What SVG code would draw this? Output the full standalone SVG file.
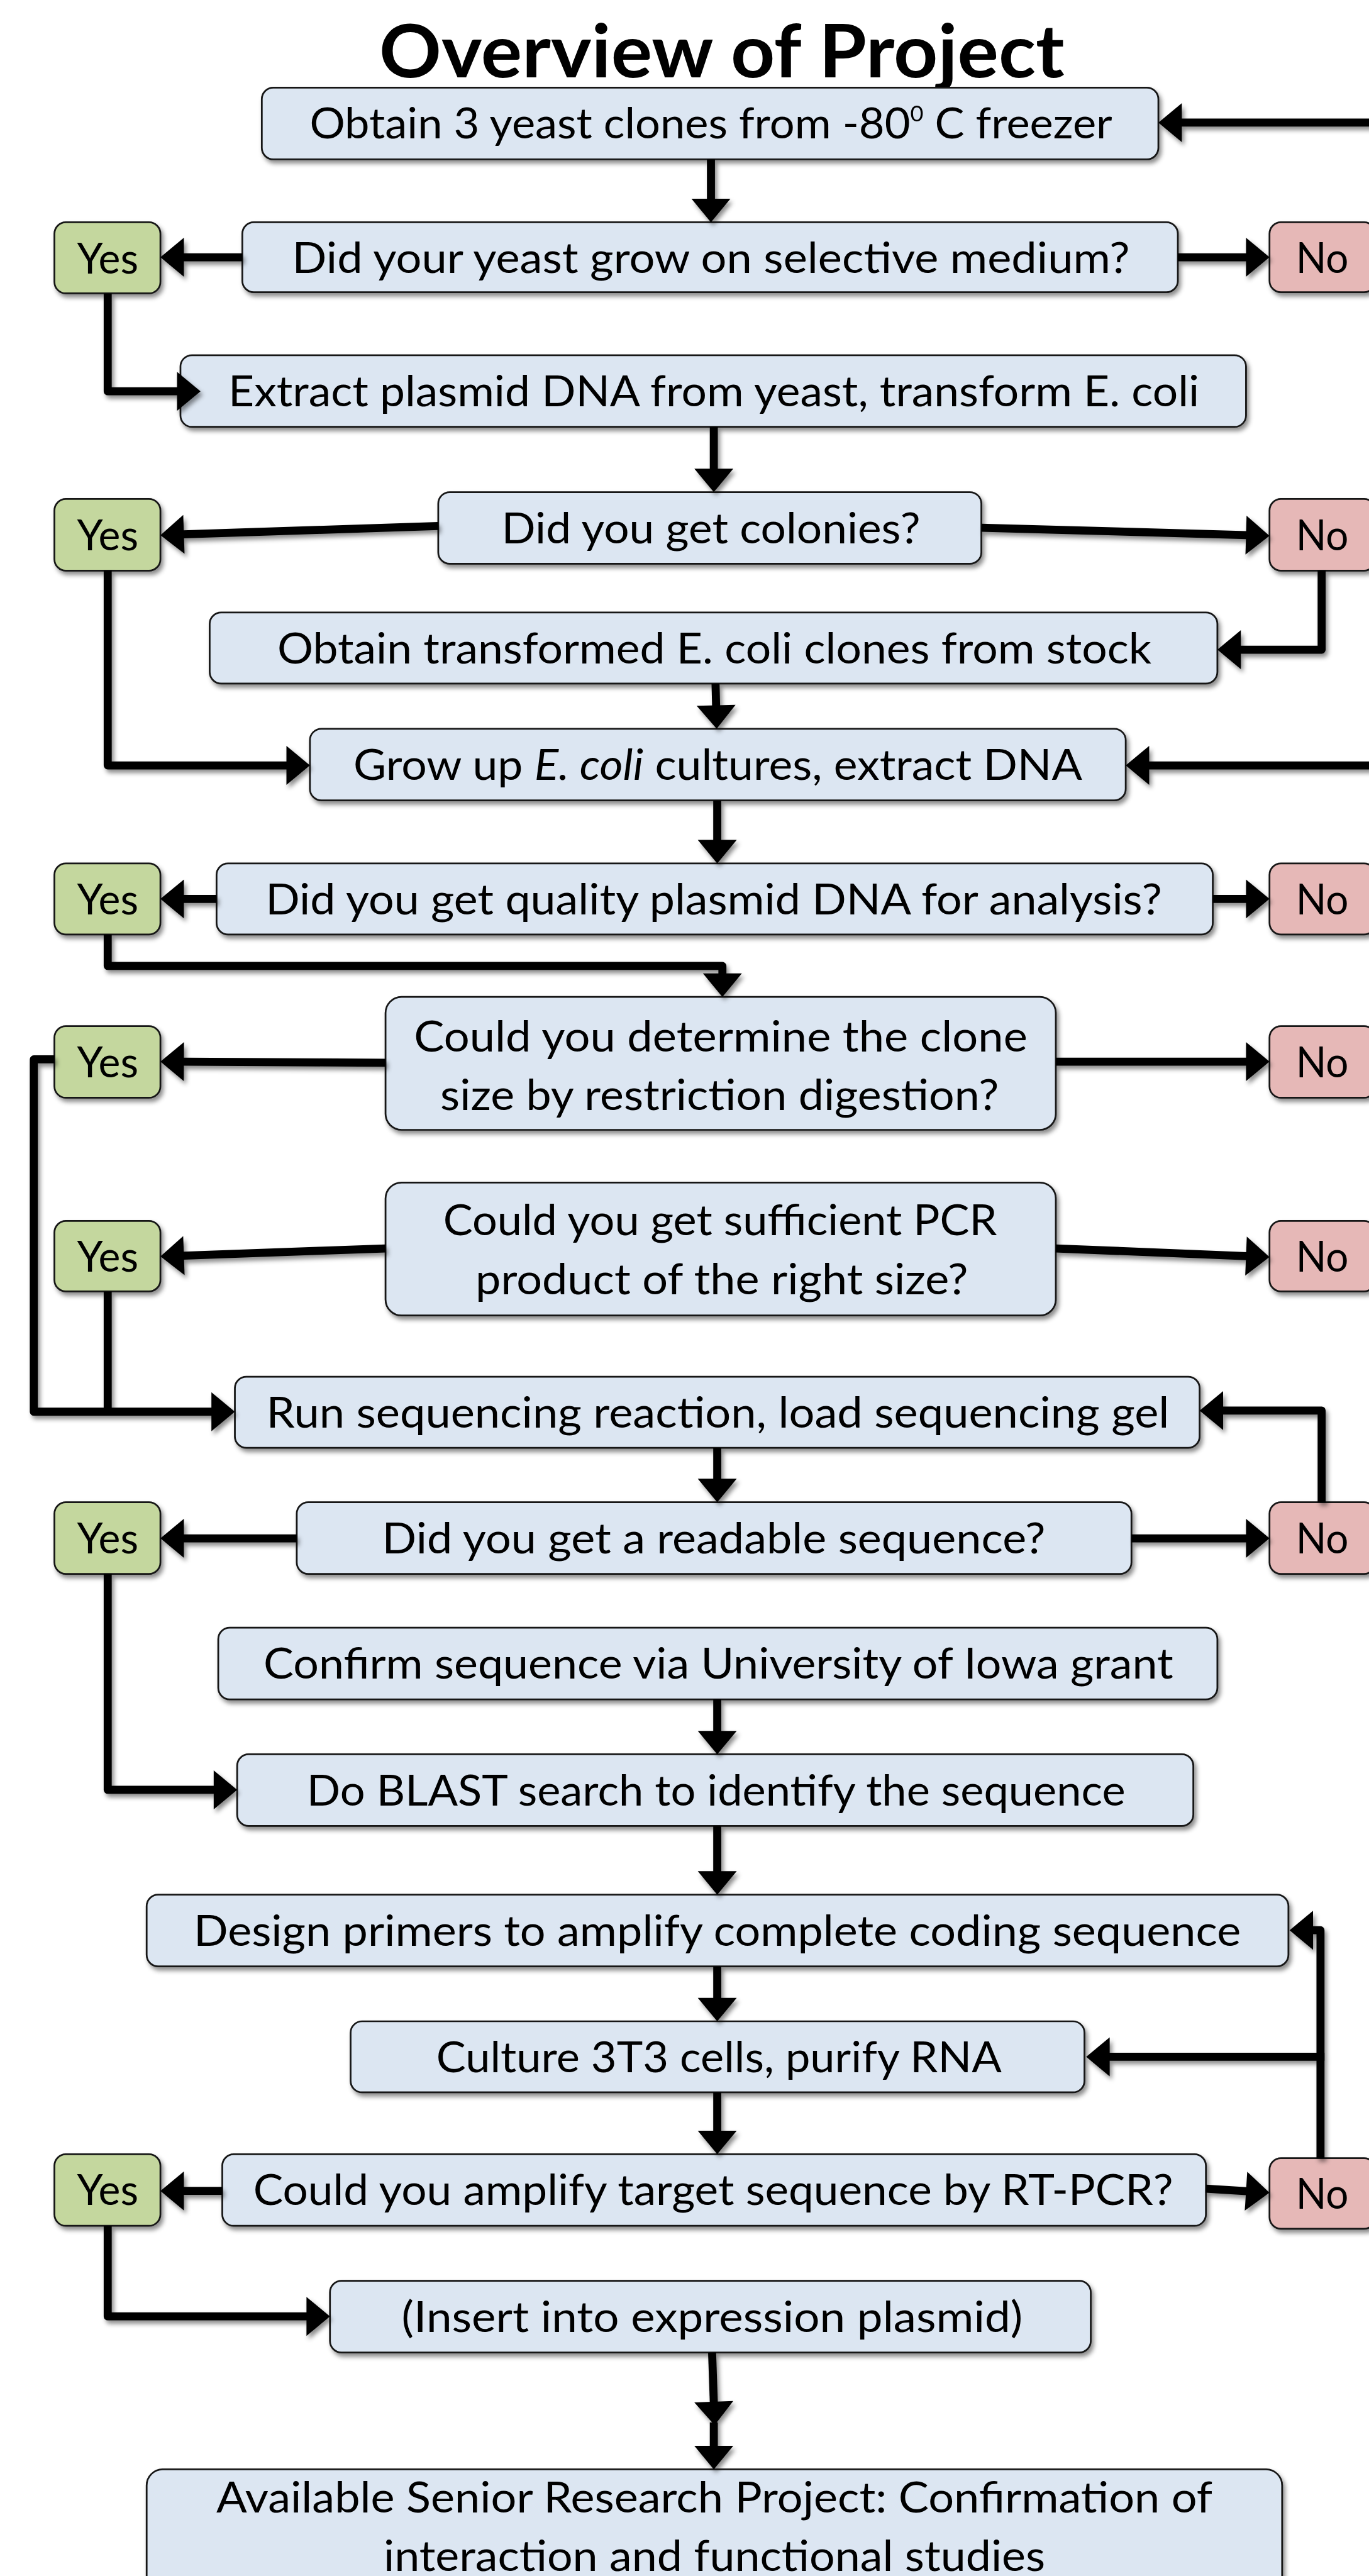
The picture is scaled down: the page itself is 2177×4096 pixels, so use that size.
<svg xmlns="http://www.w3.org/2000/svg" width="2177" height="4096" viewBox="0 0 2177 4096">
<defs>
<style>
.box{fill:#DCE6F2;stroke:#141414;stroke-width:3}
.yes{fill:#C4D79E;stroke:#141414;stroke-width:3}
.no{fill:#E6B8B7;stroke:#141414;stroke-width:3}
.t{font-family:Lato,"Open Sans","Liberation Sans",sans-serif;font-size:74px;fill:#000;text-anchor:middle}
.title{font-family:Lato,"Open Sans","Liberation Sans",sans-serif;font-size:128px;font-weight:bold;fill:#000;text-anchor:middle}
.c{fill:none;stroke:#000;stroke-width:14;stroke-linejoin:round;marker-end:url(#ah)}
.cn{fill:none;stroke:#000;stroke-width:14;stroke-linejoin:round}
</style>
<marker id="ah" markerUnits="userSpaceOnUse" markerWidth="42" markerHeight="68" viewBox="0 0 42 68" refX="1" refY="34" orient="auto" overflow="visible"><path d="M0,0 L41,34 L0,68 z" fill="#000"/></marker>
<filter id="sh" x="-10%" y="-10%" width="120%" height="130%"><feDropShadow dx="4" dy="6" stdDeviation="4" flood-color="#000" flood-opacity="0.45"/></filter>
</defs>
<rect x="0" y="0" width="2177" height="4096" fill="#fff"/>
<g transform="scale(0.911)">
<g id="title"><text class="title" x="1260" y="135" textLength="1196" lengthAdjust="spacingAndGlyphs">Overview of Project</text></g>

<g id="n1" filter="url(#sh)"><rect class="box" x="457" y="153" width="1565" height="125" rx="20"/><text class="t" x="1241" y="242" textLength="1401" lengthAdjust="spacingAndGlyphs">Obtain 3 yeast clones from -80<tspan font-size="38" dy="-30">0</tspan><tspan dy="30"> C freezer</tspan></text></g>
<g id="d1" filter="url(#sh)"><rect class="box" x="423" y="388" width="1633" height="122" rx="20"/><text class="t" x="1241" y="476" textLength="1462" lengthAdjust="spacingAndGlyphs">Did your yeast grow on selective medium?</text></g>
<g id="yes1" filter="url(#sh)"><rect class="yes" x="95" y="388" width="185" height="124" rx="20"/><text class="t" x="188" y="477" textLength="107" lengthAdjust="spacingAndGlyphs">Yes</text></g>
<g id="no1" filter="url(#sh)"><rect class="no" x="2216" y="388" width="185" height="122" rx="20"/><text class="t" x="2308" y="476" textLength="92" lengthAdjust="spacingAndGlyphs">No</text></g>
<g id="n2" filter="url(#sh)"><rect class="box" x="315" y="620" width="1860" height="125" rx="20"/><text class="t" x="1246" y="709" textLength="1695" lengthAdjust="spacingAndGlyphs">Extract plasmid DNA from yeast, transform E. coli</text></g>
<g id="d2" filter="url(#sh)"><rect class="box" x="765" y="859" width="948" height="125" rx="20"/><text class="t" x="1241" y="948" textLength="731" lengthAdjust="spacingAndGlyphs">Did you get colonies?</text></g>
<g id="yes2" filter="url(#sh)"><rect class="yes" x="95" y="871" width="185" height="125" rx="20"/><text class="t" x="188" y="960" textLength="107" lengthAdjust="spacingAndGlyphs">Yes</text></g>
<g id="no2" filter="url(#sh)"><rect class="no" x="2216" y="871" width="185" height="125" rx="20"/><text class="t" x="2308" y="960" textLength="92" lengthAdjust="spacingAndGlyphs">No</text></g>
<g id="n3" filter="url(#sh)"><rect class="box" x="366" y="1069" width="1759" height="124" rx="20"/><text class="t" x="1247" y="1158" textLength="1526" lengthAdjust="spacingAndGlyphs">Obtain transformed E. coli clones from stock</text></g>
<g id="n4" filter="url(#sh)"><rect class="box" x="541" y="1272" width="1424" height="125" rx="20"/><text class="t" x="1253" y="1361" textLength="1272" lengthAdjust="spacingAndGlyphs">Grow up <tspan font-style="italic">E. coli</tspan> cultures, extract DNA</text></g>
<g id="d3" filter="url(#sh)"><rect class="box" x="378" y="1507" width="1739" height="124" rx="20"/><text class="t" x="1246" y="1596" textLength="1565" lengthAdjust="spacingAndGlyphs">Did you get quality plasmid DNA for analysis?</text></g>
<g id="yes3" filter="url(#sh)"><rect class="yes" x="95" y="1507" width="185" height="124" rx="20"/><text class="t" x="188" y="1596" textLength="107" lengthAdjust="spacingAndGlyphs">Yes</text></g>
<g id="no3" filter="url(#sh)"><rect class="no" x="2216" y="1507" width="185" height="124" rx="20"/><text class="t" x="2308" y="1596" textLength="92" lengthAdjust="spacingAndGlyphs">No</text></g>
<g id="d4" filter="url(#sh)"><rect class="box" x="673" y="1740" width="1170" height="232" rx="28"/><text class="t" x="1258" y="1835" textLength="1071" lengthAdjust="spacingAndGlyphs">Could you determine the clone</text><text class="t" x="1256" y="1937" textLength="975" lengthAdjust="spacingAndGlyphs">size by restriction digestion?</text></g>
<g id="yes4" filter="url(#sh)"><rect class="yes" x="95" y="1791" width="185" height="125" rx="20"/><text class="t" x="188" y="1880" textLength="107" lengthAdjust="spacingAndGlyphs">Yes</text></g>
<g id="no4" filter="url(#sh)"><rect class="no" x="2216" y="1791" width="185" height="125" rx="20"/><text class="t" x="2308" y="1880" textLength="92" lengthAdjust="spacingAndGlyphs">No</text></g>
<g id="d5" filter="url(#sh)"><rect class="box" x="673" y="2064" width="1170" height="232" rx="28"/><text class="t" x="1257" y="2156" textLength="967" lengthAdjust="spacingAndGlyphs">Could you get sufficient PCR</text><text class="t" x="1260" y="2259" textLength="860" lengthAdjust="spacingAndGlyphs">product of the right size?</text></g>
<g id="yes5" filter="url(#sh)"><rect class="yes" x="95" y="2131" width="185" height="123" rx="20"/><text class="t" x="188" y="2219" textLength="107" lengthAdjust="spacingAndGlyphs">Yes</text></g>
<g id="no5" filter="url(#sh)"><rect class="no" x="2216" y="2131" width="185" height="123" rx="20"/><text class="t" x="2308" y="2219" textLength="92" lengthAdjust="spacingAndGlyphs">No</text></g>
<g id="n5" filter="url(#sh)"><rect class="box" x="410" y="2403" width="1684" height="124" rx="20"/><text class="t" x="1253" y="2492" textLength="1576" lengthAdjust="spacingAndGlyphs">Run sequencing reaction, load sequencing gel</text></g>
<g id="d6" filter="url(#sh)"><rect class="box" x="518" y="2622" width="1457" height="125" rx="20"/><text class="t" x="1246" y="2711" textLength="1158" lengthAdjust="spacingAndGlyphs">Did you get a readable sequence?</text></g>
<g id="yes6" filter="url(#sh)"><rect class="yes" x="95" y="2622" width="185" height="125" rx="20"/><text class="t" x="188" y="2711" textLength="107" lengthAdjust="spacingAndGlyphs">Yes</text></g>
<g id="no6" filter="url(#sh)"><rect class="no" x="2216" y="2622" width="185" height="125" rx="20"/><text class="t" x="2308" y="2711" textLength="92" lengthAdjust="spacingAndGlyphs">No</text></g>
<g id="n6" filter="url(#sh)"><rect class="box" x="381" y="2841" width="1744" height="125" rx="20"/><text class="t" x="1254" y="2930" textLength="1588" lengthAdjust="spacingAndGlyphs">Confirm sequence via University of Iowa grant</text></g>
<g id="n7" filter="url(#sh)"><rect class="box" x="414" y="3062" width="1669" height="125" rx="20"/><text class="t" x="1250" y="3151" textLength="1429" lengthAdjust="spacingAndGlyphs">Do BLAST search to identify the sequence</text></g>
<g id="n8" filter="url(#sh)"><rect class="box" x="256" y="3307" width="1993" height="125" rx="20"/><text class="t" x="1252" y="3396" textLength="1828" lengthAdjust="spacingAndGlyphs">Design primers to amplify complete coding sequence</text></g>
<g id="n9" filter="url(#sh)"><rect class="box" x="612" y="3528" width="1281" height="124" rx="20"/><text class="t" x="1255" y="3617" textLength="987" lengthAdjust="spacingAndGlyphs">Culture 3T3 cells, purify RNA</text></g>
<g id="d7" filter="url(#sh)"><rect class="box" x="388" y="3760" width="1717" height="125" rx="20"/><text class="t" x="1245" y="3849" textLength="1606" lengthAdjust="spacingAndGlyphs">Could you amplify target sequence by RT-PCR?</text></g>
<g id="yes7" filter="url(#sh)"><rect class="yes" x="95" y="3760" width="185" height="125" rx="20"/><text class="t" x="188" y="3849" textLength="107" lengthAdjust="spacingAndGlyphs">Yes</text></g>
<g id="no7" filter="url(#sh)"><rect class="no" x="2216" y="3767" width="185" height="123" rx="20"/><text class="t" x="2308" y="3855" textLength="92" lengthAdjust="spacingAndGlyphs">No</text></g>
<g id="n10" filter="url(#sh)"><rect class="box" x="576" y="3981" width="1328" height="125" rx="20"/><text class="t" x="1243" y="4070" textLength="1084" lengthAdjust="spacingAndGlyphs">(Insert into expression plasmid)</text></g>
<g id="n11" filter="url(#sh)"><rect class="box" x="256" y="4310" width="1982" height="230" rx="28"/><text class="t" x="1247" y="4385" textLength="1739" lengthAdjust="spacingAndGlyphs">Available Senior Research Project: Confirmation of</text><text class="t" x="1247" y="4487" textLength="1155" lengthAdjust="spacingAndGlyphs">interaction and functional studies</text></g>

<g id="connectors" filter="url(#sh)">
<path class="c" d="M2420,214 L2062,214"/>
<path class="c" d="M1241,278 L1241,348"/>
<path class="c" d="M423,449 L320,449"/>
<path class="c" d="M2056,449 L2176,449"/>
<path class="c" d="M188,512 L188,683 L310,683"/>
<path class="c" d="M1246,745 L1246,819"/>
<path class="c" d="M765,918 L320,932.7"/>
<path class="c" d="M1713,921 L2176,934"/>
<path class="c" d="M2307,996 L2307,1134 L2165,1134"/>
<path class="c" d="M1249,1193 L1250,1232"/>
<path class="c" d="M188,996 L188,1336 L501,1336"/>
<path class="c" d="M2420,1336 L2005,1336"/>
<path class="c" d="M1252,1397 L1252,1467"/>
<path class="c" d="M378,1569 L320,1569"/>
<path class="c" d="M2117,1569 L2176,1569"/>
<path class="c" d="M188,1631 L188,1686 L1261,1686 L1261,1700"/>
<path class="c" d="M673,1855 L320,1853"/>
<path class="c" d="M1843,1853 L2176,1853"/>
<path class="c" d="M673,2179 L320,2191.6"/>
<path class="c" d="M1843,2179 L2176,2192.4"/>
<path class="c" d="M95,1849 L59,1849 L59,2464 L370,2464"/>
<path class="cn" d="M188,2254 L188,2464"/>
<path class="c" d="M1252,2527 L1252,2582"/>
<path class="c" d="M518,2685 L320,2685"/>
<path class="c" d="M1975,2685 L2176,2685"/>
<path class="c" d="M2307,2622 L2307,2462 L2134,2462"/>
<path class="c" d="M188,2747 L188,3124 L374,3124"/>
<path class="c" d="M1252,2966 L1252,3022"/>
<path class="c" d="M1252,3187 L1252,3267"/>
<path class="c" d="M1252,3432 L1252,3488"/>
<path class="c" d="M1252,3652 L1252,3720"/>
<path class="c" d="M2305,3767 L2305,3369 L2291,3369"/>
<path class="c" d="M2312,3590 L1936,3590"/>
<path class="c" d="M388,3824 L320,3824"/>
<path class="c" d="M2105,3820 L2176,3824.5"/>
<path class="c" d="M188,3885 L188,4043 L536,4043"/>
<path class="c" d="M1243,4106 L1246,4193"/>
<path class="c" d="M1246,4228 L1246,4270"/>
</g>
</g>
</svg>
